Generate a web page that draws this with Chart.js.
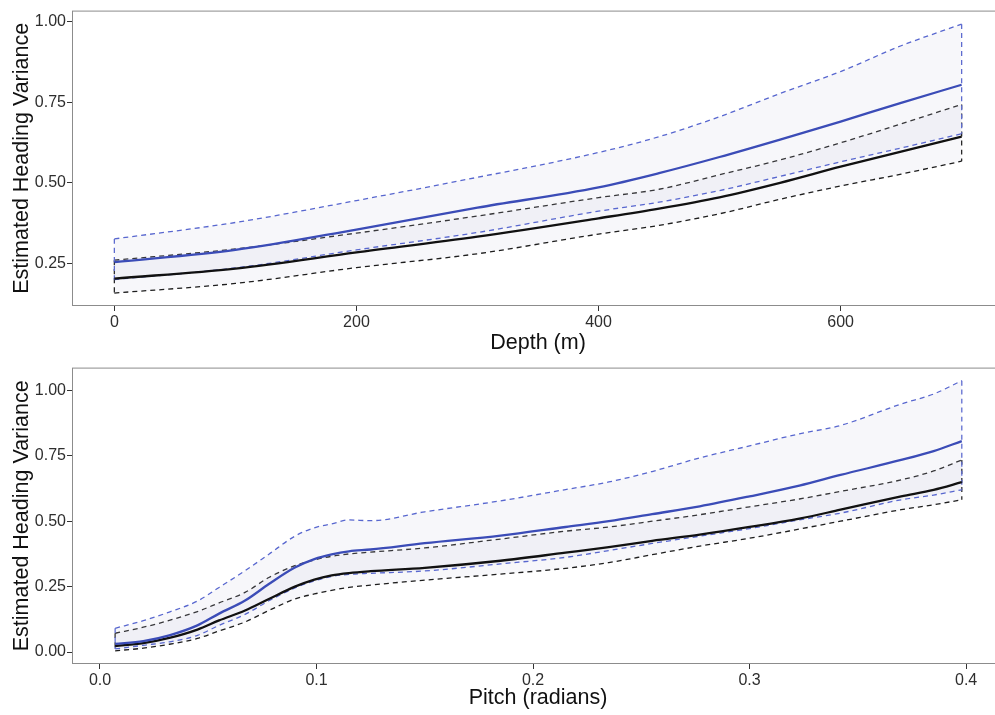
<!DOCTYPE html>
<html>
<head>
<meta charset="utf-8">
<script src="https://cdn.jsdelivr.net/npm/chart.js@4"></script>
<style>
  html, body { margin: 0; padding: 0; background: #fff; overflow: hidden; }
  #wrap { position: relative; width: 995px; height: 715px; overflow: hidden; }
  .panel { position: absolute; left: 0; width: 1004px; height: 358px; }
</style>
</head>
<body>
<div id="wrap">
  <div class="panel" style="top:0"><canvas id="depthChart"></canvas></div>
  <div class="panel" style="top:357px"><canvas id="pitchChart"></canvas></div>
</div>
<script>
// top panel: depth
const depth = [0, 100, 200, 300, 400, 450, 500, 550, 600, 650, 700];
const depthBlueUpper = [0.326, 0.377, 0.445, 0.517, 0.594, 0.643, 0.705, 0.777, 0.845, 0.925, 0.992];
const depthBlueMean = [0.254, 0.292, 0.355, 0.423, 0.486, 0.530, 0.580, 0.634, 0.690, 0.748, 0.804];
const depthBlueLower = [0.200, 0.236, 0.292, 0.346, 0.412, 0.440, 0.476, 0.520, 0.565, 0.608, 0.652];
const depthBlackUpper = [0.260, 0.295, 0.344, 0.397, 0.454, 0.480, 0.525, 0.571, 0.624, 0.683, 0.743];
const depthBlackMean = [0.203, 0.234, 0.284, 0.333, 0.390, 0.420, 0.455, 0.500, 0.550, 0.597, 0.643];
const depthBlackLower = [0.158, 0.188, 0.237, 0.280, 0.341, 0.368, 0.404, 0.449, 0.490, 0.527, 0.567];
const depthTicks = [0, 200, 400, 600];
const depthVarTicks = [0.25, 0.50, 0.75, 1.00];

// bottom panel: pitch
const pitch = [0.007, 0.020, 0.032, 0.045, 0.055, 0.067, 0.078, 0.090, 0.099, 0.107, 0.115, 0.125, 0.150, 0.185, 0.215, 0.235, 0.255, 0.277, 0.300, 0.323, 0.342, 0.370, 0.385, 0.398];
const pitchBlueUpper = [0.091, 0.120, 0.153, 0.195, 0.247, 0.311, 0.374, 0.443, 0.475, 0.490, 0.505, 0.502, 0.536, 0.578, 0.621, 0.650, 0.690, 0.742, 0.788, 0.834, 0.866, 0.948, 0.986, 1.037];
const pitchBlueMean = [0.031, 0.042, 0.064, 0.102, 0.147, 0.197, 0.260, 0.323, 0.355, 0.373, 0.385, 0.392, 0.416, 0.445, 0.478, 0.500, 0.527, 0.557, 0.595, 0.636, 0.677, 0.734, 0.768, 0.806];
const pitchBlueLower = [0.012, 0.026, 0.039, 0.064, 0.102, 0.144, 0.196, 0.245, 0.272, 0.289, 0.297, 0.301, 0.310, 0.337, 0.362, 0.388, 0.415, 0.443, 0.472, 0.505, 0.531, 0.582, 0.600, 0.620];
const pitchBlackUpper = [0.072, 0.095, 0.121, 0.155, 0.188, 0.228, 0.285, 0.330, 0.352, 0.366, 0.375, 0.382, 0.398, 0.432, 0.462, 0.478, 0.500, 0.525, 0.555, 0.585, 0.614, 0.658, 0.692, 0.734];
const pitchBlackMean = [0.023, 0.034, 0.054, 0.086, 0.121, 0.159, 0.203, 0.250, 0.277, 0.293, 0.302, 0.309, 0.322, 0.349, 0.380, 0.401, 0.425, 0.449, 0.478, 0.510, 0.544, 0.595, 0.620, 0.649];
const pitchBlackLower = [0.005, 0.015, 0.030, 0.052, 0.081, 0.115, 0.159, 0.203, 0.222, 0.236, 0.247, 0.256, 0.275, 0.298, 0.320, 0.342, 0.372, 0.405, 0.435, 0.470, 0.500, 0.544, 0.563, 0.582];
const pitchTicks = [0, 0.1, 0.2, 0.3, 0.4];
const pitchVarTicks = [0, 0.25, 0.50, 0.75, 1.00];

const BLUE = "#3b4cb7";
const BLUE_DASH = "#5867cf";
const BLACK = "#111111";
const BAND = "rgba(200,203,220,0.15)";
const FONT = "'Liberation Sans', Arial, sans-serif";

const pts = (xs, ys) => xs.map((x, i) => ({ x, y: ys[i] }));

// ribbon = lower edge, upper edge filled down to it, and the two dashed end caps
const ribbonSets = (xs, upper, lower, color) => {
    const last = xs.length - 1;
    const dashed = { showLine: true, pointRadius: 0, borderColor: color, borderWidth: 1.3,
        borderDash: [5, 4], cubicInterpolationMode: "monotone", order: 5 };
    return [
        { ...dashed, data: pts(xs, lower), fill: false },
        { ...dashed, data: pts(xs, upper), fill: "-1", backgroundColor: BAND },
        { ...dashed, data: [{ x: xs[0], y: upper[0] }, { x: xs[0], y: lower[0] }], fill: false },
        { ...dashed, data: [{ x: xs[last], y: upper[last] }, { x: xs[last], y: lower[last] }], fill: false },
    ];
}

const panelBorder = {
    id: "panelBorder",
    afterDraw(chart) {
        const { ctx, chartArea: a } = chart;
        ctx.save();
        ctx.strokeStyle = "#8c8c8c";
        ctx.lineWidth = 1;
        ctx.strokeRect(a.left + 0.5, a.top + 0.5, a.width - 1, a.height - 1);
        ctx.restore();
    }
};

function makeChart(id, o) {
    const tickFont = { family: FONT, size: 16 };
    const titleFont = { family: FONT, size: 21.5 };
    return new Chart(document.getElementById(id), {
        type: "scatter",
        data: {
            datasets: [
                ...ribbonSets(o.xs, o.blueUp, o.blueLo, BLUE_DASH),
                ...ribbonSets(o.xs, o.blackUp, o.blackLo, "#1e1e1e"),
                { data: pts(o.xs, o.blackMean), showLine: true, pointRadius: 0,
                  cubicInterpolationMode: "monotone", borderColor: BLACK, borderWidth: 2.3, order: 2 },
                { data: pts(o.xs, o.blueMean), showLine: true, pointRadius: 0,
                  cubicInterpolationMode: "monotone", borderColor: BLUE, borderWidth: 2.3, order: 1 },
            ]
        },
        options: {
            responsive: true,
            maintainAspectRatio: false,
            animation: false,
            layout: { padding: { top: 8, left: 0, right: 0, bottom: 0 } },
            plugins: { legend: { display: false }, tooltip: { enabled: false } },
            scales: {
                x: {
                    type: "linear", min: o.xMin, max: o.xMax,
                    afterBuildTicks: s => { s.ticks = o.xTicks.map(v => ({ value: v })); },
                    afterFit: s => { s.height = o.xAxisHeight; },
                    ticks: { font: tickFont, color: "#2e2e2e", padding: 2, maxRotation: 0,
                        callback: v => v.toFixed(o.xDec) },
                    grid: { drawOnChartArea: false, drawTicks: true, tickLength: 5, color: "#333" },
                    border: { display: false },
                    title: { display: true, text: o.xTitle, font: titleFont, color: "#111",
                        padding: { top: 0, bottom: o.titlePad } },
                },
                y: {
                    type: "linear", min: o.yMin, max: o.yMax,
                    afterBuildTicks: s => { s.ticks = o.yTicks.map(v => ({ value: v })); },
                    afterFit: s => { s.width = 72; },
                    ticks: { font: tickFont, color: "#2e2e2e", padding: 1,
                        callback: v => v.toFixed(2) },
                    grid: { drawOnChartArea: false, drawTicks: true, tickLength: 5, color: "#333" },
                    border: { display: false },
                    title: { display: true, text: "Estimated Heading Variance", font: titleFont,
                        color: "#111", padding: { top: 9, bottom: 0 } },
                }
            }
        },
        plugins: [panelBorder]
    });
}

makeChart("depthChart", {
    xs: depth, blueUp: depthBlueUpper, blueMean: depthBlueMean, blueLo: depthBlueLower,
    blackUp: depthBlackUpper, blackMean: depthBlackMean, blackLo: depthBlackLower,
    xMin: -35, xMax: 735, yMin: 0.118, yMax: 1.034,
    xTicks: depthTicks, yTicks: depthVarTicks, xDec: 0,
    xTitle: "Depth (m)", xAxisHeight: 52, titlePad: 2,
});

makeChart("pitchChart", {
    xs: pitch, blueUp: pitchBlueUpper, blueMean: pitchBlueMean, blueLo: pitchBlueLower,
    blackUp: pitchBlackUpper, blackMean: pitchBlackMean, blackLo: pitchBlackLower,
    xMin: -0.01293, xMax: 0.4175, yMin: -0.0455, yMax: 1.087,
    xTicks: pitchTicks, yTicks: pitchVarTicks, xDec: 1,
    xTitle: "Pitch (radians)", xAxisHeight: 51, titlePad: 4,
});
</script>
</body>
</html>
